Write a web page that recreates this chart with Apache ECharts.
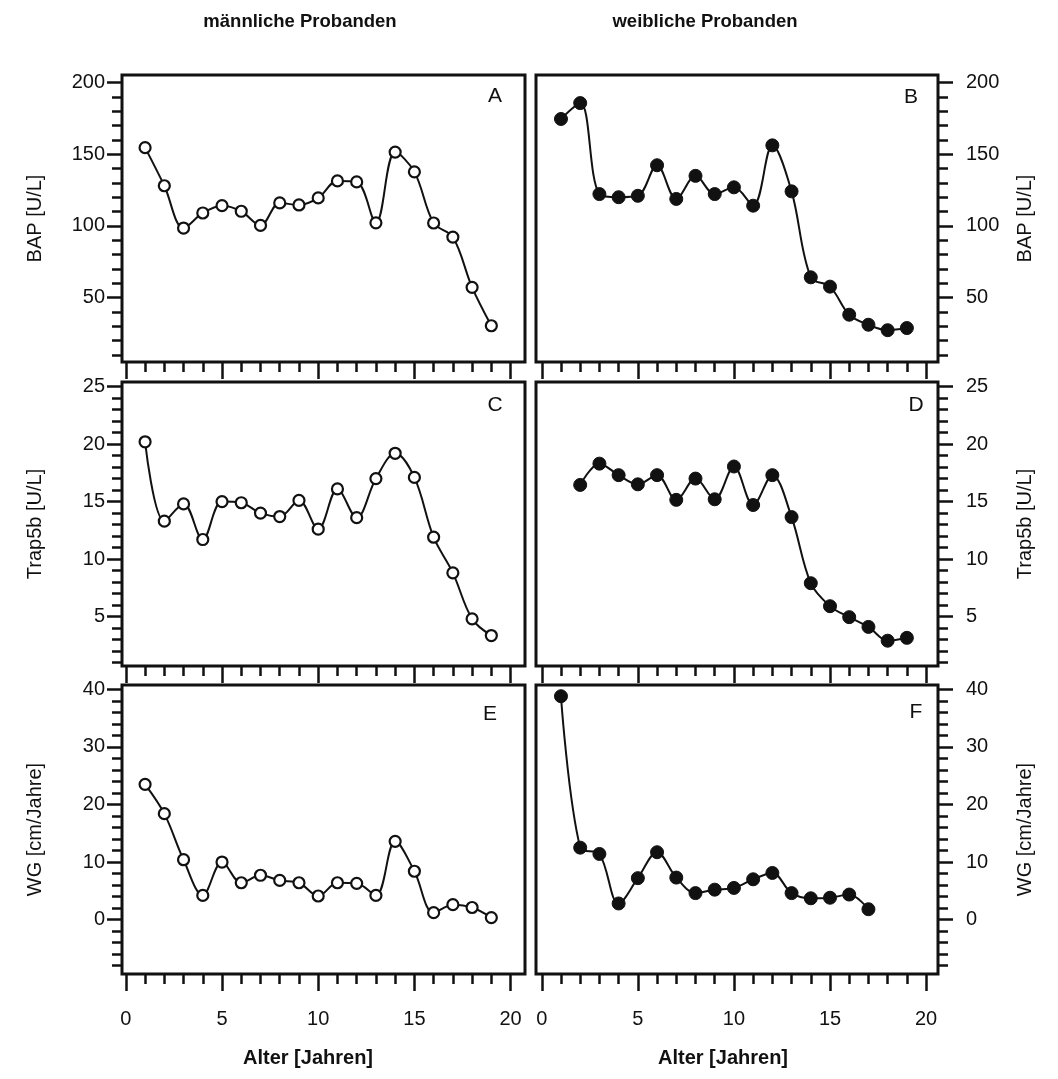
<!DOCTYPE html>
<html>
<head>
<meta charset="utf-8">
<script src="https://cdn.jsdelivr.net/npm/echarts@6/dist/echarts.min.js"></script>
<style>
  html, body { margin: 0; padding: 0; background: #fff; }
  #chart { width: 1058px; height: 1079px; }
</style>
</head>
<body>
<div id="chart"></div>
<script>
// ---------- data ----------
const agesFull = [1, 2, 3, 4, 5, 6, 7, 8, 9, 10, 11, 12, 13, 14, 15, 16, 17, 18, 19];
const agesD = [2, 3, 4, 5, 6, 7, 8, 9, 10, 11, 12, 13, 14, 15, 16, 17, 18, 19];
const agesF = [1, 2, 3, 4, 5, 6, 7, 8, 9, 10, 11, 12, 13, 14, 15, 16, 17];

const bapMale   = [154.6, 128, 98.5, 109, 114.1, 110.2, 100.3, 116, 114.6, 119.5, 131.4, 130.7, 102.1, 151.5, 137.7, 102, 92.2, 57.1, 30.3];
const bapFemale = [174.6, 185.7, 122.2, 120, 121, 142.3, 118.8, 134.9, 122.2, 126.9, 114.1, 156.2, 124.1, 64.1, 57.6, 38, 31, 27.2, 28.7];
const trapMale   = [20.2, 13.3, 14.8, 11.7, 15.0, 14.9, 14.0, 13.7, 15.1, 12.6, 16.1, 13.6, 17.0, 19.2, 17.1, 11.9, 8.8, 4.8, 3.35];
const trapFemale = [16.45, 18.3, 17.3, 16.5, 17.3, 15.15, 17.0, 15.2, 18.05, 14.7, 17.3, 13.65, 7.9, 5.9, 4.95, 4.1, 2.9, 3.15];
const wgMale   = [23.5, 18.4, 10.4, 4.2, 10.0, 6.4, 7.7, 6.8, 6.4, 4.1, 6.4, 6.3, 4.2, 13.6, 8.4, 1.2, 2.6, 2.1, 0.35];
const wgFemale = [38.8, 12.5, 11.4, 2.8, 7.2, 11.7, 7.3, 4.6, 5.2, 5.5, 7.0, 8.1, 4.6, 3.7, 3.8, 4.35, 1.8];

const xMajorTicks = [0, 5, 10, 15, 20];
const xMinorTicks = [1, 2, 3, 4, 6, 7, 8, 9, 11, 12, 13, 14, 16, 17, 18, 19];
const bapMajorTicks = [50, 100, 150, 200];
const bapMinorTicks = [10, 20, 30, 40, 60, 70, 80, 90, 110, 120, 130, 140, 160, 170, 180, 190];
const trapMajorTicks = [5, 10, 15, 20, 25];
const trapMinorTicks = [1, 2, 3, 4, 6, 7, 8, 9, 11, 12, 13, 14, 16, 17, 18, 19, 21, 22, 23, 24];
const wgMajorTicks = [0, 10, 20, 30, 40];
const wgMinorTicks = [-8, -6, -4, -2, 2, 4, 6, 8, 12, 14, 16, 18, 22, 24, 26, 28, 32, 34, 36, 38];

const columnTitles = ['männliche Probanden', 'weibliche Probanden'];
const panelLetters = ['A', 'B', 'C', 'D', 'E', 'F'];
const yNames = ['BAP [U/L]', 'Trap5b [U/L]', 'WG [cm/Jahre]'];
const xName = 'Alter [Jahren]';

// ---------- layout ----------
const FONT = '"Liberation Sans", Arial, sans-serif';
const INK = '#111';
const cols = [{ left: 122, width: 403, xmin: -0.2, xmax: 20.75, side: 'left', labelMargin: 17, titleX: 300, nameX: 308 },
              { left: 536, width: 402, xmin: -0.3, xmax: 20.62, side: 'right', labelMargin: 28, titleX: 705, nameX: 723 }];
const rows = [
  { top: 75,  height: 287, ymin: 5,    ymax: 205.3, major: bapMajorTicks,  minor: bapMinorTicks },
  { top: 382, height: 284, ymin: 0.7,  ymax: 25.4,  major: trapMajorTicks, minor: trapMinorTicks },
  { top: 685, height: 289, ymin: -9.45, ymax: 40.75, major: wgMajorTicks,   minor: wgMinorTicks }
];
const panelData = [
  [agesFull, bapMale, false], [agesFull, bapFemale, true],
  [agesFull, trapMale, false], [agesD, trapFemale, true],
  [agesFull, wgMale, false], [agesF, wgFemale, true]
];
const letterPos = [[495, 96], [911, 97], [495, 405], [916, 405], [490, 714], [916, 712]];

const grid = [], xAxis = [], yAxis = [], series = [], graphic = [];

for (let r = 0; r < 3; r++) {
  for (let c = 0; c < 2; c++) {
    const g = r * 2 + c;
    const col = cols[c], row = rows[r];
    grid.push({ left: col.left, top: row.top, width: col.width, height: row.height,
      show: true, borderColor: INK, borderWidth: 3, backgroundColor: 'transparent', containLabel: false });
    const bottomRow = r === 2;
    // major x ticks
    xAxis.push({
      type: 'value', gridIndex: g, position: 'bottom', min: col.xmin, max: col.xmax,
      axisLine: { show: false, onZero: false },
      axisTick: { show: true, customValues: xMajorTicks, length: 17, lineStyle: { color: INK, width: 2.5 } },
      axisLabel: { show: bottomRow, customValues: xMajorTicks, fontFamily: FONT, fontSize: 20, color: INK, margin: 35 },
      splitLine: { show: false }
    });
    // minor x ticks
    xAxis.push({
      type: 'value', gridIndex: g, position: 'bottom', min: col.xmin, max: col.xmax,
      axisLine: { show: false, onZero: false },
      axisTick: { show: true, customValues: xMinorTicks, length: 10, lineStyle: { color: INK, width: 2.5 } },
      axisLabel: { show: false }, splitLine: { show: false }
    });
    // major y ticks + labels
    yAxis.push({
      type: 'value', gridIndex: g, position: col.side, min: row.ymin, max: row.ymax,
      axisLine: { show: false, onZero: false },
      axisTick: { show: true, customValues: row.major, length: 15, lineStyle: { color: INK, width: 2.5 } },
      axisLabel: { show: true, customValues: row.major, fontFamily: FONT, fontSize: 20, color: INK, margin: col.labelMargin },
      splitLine: { show: false },
      name: yNames[r], nameLocation: 'middle', nameGap: 77, nameRotate: 90,
      nameTextStyle: { fontFamily: FONT, fontSize: 20, color: INK }
    });
    // minor y ticks
    yAxis.push({
      type: 'value', gridIndex: g, position: col.side, min: row.ymin, max: row.ymax,
      axisLine: { show: false, onZero: false },
      axisTick: { show: true, customValues: row.minor, length: 10, lineStyle: { color: INK, width: 2.5 } },
      axisLabel: { show: false }, splitLine: { show: false }
    });
    const [xs, ys, filled] = panelData[g];
    series.push({
      type: 'line', xAxisIndex: g * 2, yAxisIndex: g * 2,
      data: xs.map((x, i) => [x, ys[i]]),
      smooth: 0.35,
      symbol: 'circle', symbolSize: filled ? 13 : 11,
      showAllSymbol: true,
      lineStyle: { color: INK, width: 2 },
      itemStyle: filled ? { color: INK, borderColor: INK, borderWidth: 1 }
                        : { color: '#fff', borderColor: INK, borderWidth: 2.2 },
      emphasis: { disabled: true },
      animation: false, z: 3
    });
    graphic.push({
      type: 'text', x: letterPos[g][0], y: letterPos[g][1],
      style: { text: panelLetters[g], fontFamily: FONT, fontSize: 21, fill: INK, align: 'center', verticalAlign: 'middle' }
    });
  }
}
cols.forEach((col, c) => {
  graphic.push({ type: 'text', x: col.titleX, y: 22,
    style: { text: columnTitles[c], fontFamily: FONT, fontSize: 18.5, fontWeight: 'bold', fill: INK, align: 'center', verticalAlign: 'middle' } });
  graphic.push({ type: 'text', x: col.nameX, y: 1058,
    style: { text: xName, fontFamily: FONT, fontSize: 20, fontWeight: 'bold', fill: INK, align: 'center', verticalAlign: 'middle' } });
});

const chart = echarts.init(document.getElementById('chart'), null, { renderer: 'canvas' });
chart.setOption({
  backgroundColor: '#fff',
  animation: false,
  grid, xAxis, yAxis, series, graphic
});
</script>
</body>
</html>
